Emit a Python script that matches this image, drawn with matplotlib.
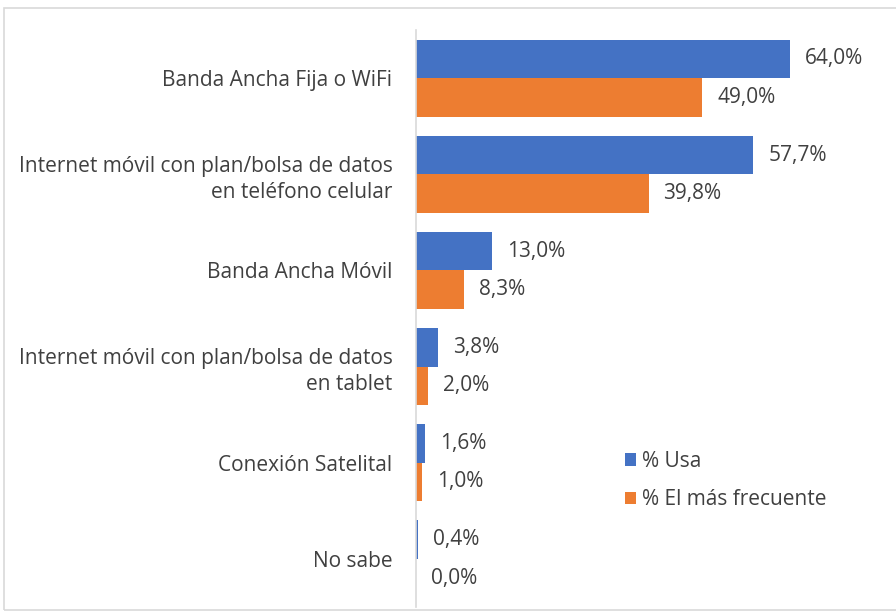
import matplotlib.pyplot as plt
from matplotlib.patches import Rectangle

categories = ["Banda Ancha Fija o WiFi",
              "Internet móvil con plan/bolsa de datos\nen teléfono celular",
              "Banda Ancha Móvil",
              "Internet móvil con plan/bolsa de datos\nen tablet",
              "Conexión Satelital",
              "No sabe"]
usa = [64.0, 57.7, 13.0, 3.8, 1.6, 0.4]
frecuente = [49.0, 39.8, 8.3, 2.0, 1.0, 0.0]
series_names = ["% Usa", "% El más frecuente"]

plt.rcParams['font.family'] = ['Open Sans', 'DejaVu Sans']
blue = "#4472C4"
orange = "#ED7D31"
txt = "#404040"
fs = 15

fig = plt.figure(figsize=(8.96, 6.13), dpi=100)
W, H = 896, 613
ax = fig.add_axes([416 / W, 1 - 607 / H, (825 - 416) / W, (607 - 30) / H])

ypos = list(range(len(categories)))
h = 0.4
b1 = ax.barh([y - h / 2 for y in ypos], usa, height=h, color=blue, label=series_names[0])
b2 = ax.barh([y + h / 2 for y in ypos], frecuente, height=h, color=orange, label=series_names[1])

for bars, vals in ((b1, usa), (b2, frecuente)):
    for bar, v in zip(bars, vals):
        ax.annotate(f"{v:.1f}%".replace(".", ","),
                    (bar.get_width(), bar.get_y() + bar.get_height() / 2),
                    xytext=(15, 0), textcoords="offset pixels",
                    va="center", ha="left", fontsize=fs, color=txt)

ax.set_xlim(0, 70)
ax.set_ylim(len(categories) - 0.5, -0.5)
ax.set_yticks(ypos)
ax.set_yticklabels(categories, fontsize=fs, color=txt, linespacing=1.3)
ax.tick_params(axis='y', length=0, pad=17)
ax.set_xticks([])
for s in ("top", "right", "bottom"):
    ax.spines[s].set_visible(False)
ax.spines["left"].set_color("#D9D9D9")
ax.spines["left"].set_linewidth(1.2)

leg = fig.legend(handles=[b1, b2], loc="upper left", bbox_to_anchor=(606 / W, 1 - 432 / H),
                 frameon=False, fontsize=fs, handlelength=0.55, handleheight=0.55,
                 handletextpad=0.3, labelspacing=0.85, labelcolor=txt)

fig.patches.append(Rectangle((4 / W, 1 - 610 / H), 1.0, (610 - 8) / H,
                             transform=fig.transFigure, fill=False,
                             edgecolor="#D9D9D9", linewidth=1.2))

fig.savefig("out.png", dpi=100)
